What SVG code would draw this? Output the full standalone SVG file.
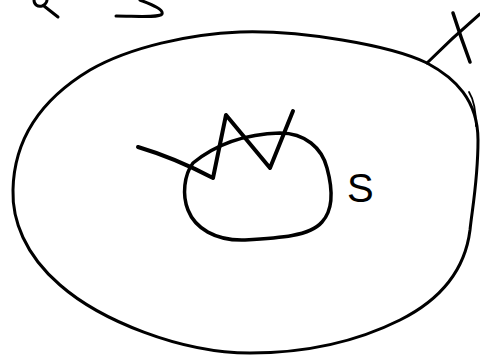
<svg xmlns="http://www.w3.org/2000/svg" width="480" height="355" viewBox="0 0 480 355">
<style>
.ink{fill:none;stroke:#000;stroke-linecap:round;stroke-linejoin:round}
.t{font-family:"Liberation Sans",Arial,sans-serif;fill:#000}
</style>
<rect width="480" height="355" fill="#fff"/>
<g id="top-fragments">
<path class="ink" stroke-width="3" d="M34,0 C34,5 38,7 42,6 C45,5 47,2 47,0"/>
<path class="ink" stroke-width="3" d="M44,6 L58,17"/>
<path class="ink" stroke-width="3" d="M140,0 C150,4 164,9 162,14 C159,18 135,16 116,16"/>
</g>
<g id="outer">
<path class="ink" stroke-width="3" d="M240,32 C300,30 390,45 427,63 C455,78 478,100 478,140 C478,180 472,210 470,230 C465,270 440,300 400,320 C360,340 310,353 250,353 C180,353 100,320 60,285 C25,255 12,220 13,190 C14,140 40,100 90,70 C130,47 190,34 240,32 Z"/>
<path class="ink" stroke-width="1.8" d="M469,92 C474,100 476,112 476,126"/>
</g>
<g id="X">
<path class="ink" stroke-width="3.5" d="M453,13 Q461,38 470,62"/>
<path class="ink" stroke-width="3" d="M427,63 Q452,38 480,14"/>
</g>
<g id="S">
<path class="ink" stroke-width="3.5" d="M193,163 C215,145 245,134 280,133 C305,133 322,148 327,168 C333,190 333,210 322,222 C310,236 280,238 245,240 C215,241 195,228 188,210 C182,195 184,175 193,163 Z"/>
<text class="t" x="347" y="202" font-size="40">S</text>
</g>
<g id="N">
<path class="ink" stroke-width="4" d="M138,147 Q175,158 213,178 L226,115 L270,168 L293,111"/>
</g>
</svg>
